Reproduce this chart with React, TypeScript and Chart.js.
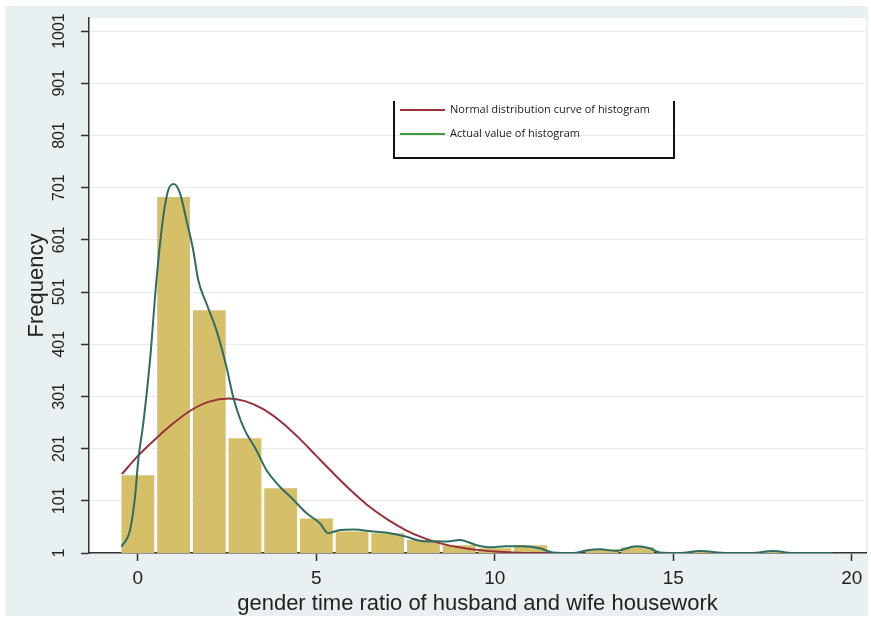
import { useEffect, useRef } from 'react';
import { Chart, registerables } from 'chart.js';

Chart.register(...registerables);

// Histogram bins (centre of each bin) and frequencies
const binCenters = [0, 1, 2, 3, 4, 5, 6, 7, 8, 9, 10, 11, 12, 13, 14, 15, 16, 17, 18, 19];
const binCounts = [150, 683, 466, 221, 125, 67, 42, 39, 26, 16, 10, 16, 0, 8, 12, 1, 3, 1, 3, 2];

// "Actual value" (kernel density) curve
const kdeX = [-0.46, -0.22, -0.08, 0.01, 0.15, 0.34, 0.52, 0.71, 0.85, 1.01, 1.18, 1.36, 1.55, 1.69, 1.92, 2.2, 2.48, 2.67, 2.95, 3.32, 3.6, 3.98, 4.3, 4.73, 5.1, 5.33, 5.6, 6.05, 6.6, 7.06, 7.53, 7.8, 8.18, 8.65, 9.02, 9.49, 9.86, 10.32, 10.79, 11.26, 11.63, 12.2, 12.56, 12.94, 13.4, 13.97, 14.34, 14.62, 15.2, 15.74, 16.5, 17.2, 17.8, 18.35, 19.47];
const kdeY = [13, 45, 109, 179, 249, 371, 524, 645, 696, 708, 690, 639, 581, 524, 479, 428, 358, 300, 243, 198, 160, 128, 107, 77, 58, 39, 44, 46, 42, 39, 32, 26, 23, 23, 26, 16, 12, 14, 14, 10, 2, 1, 6, 8, 5, 14, 10, 2, 1, 5, 1, 1, 5, 1, 1];

// Normal distribution curve
const normalX = [-0.45, 0, 0.5, 1, 1.5, 2, 2.55, 3, 3.5, 4, 4.5, 5, 5.5, 6, 6.5, 7, 7.5, 8, 8.5, 9, 9.5, 10, 10.5, 11, 12];
const normalY = [152, 187, 220, 250, 275, 291, 297, 292, 277, 253, 222, 187, 152, 119, 89, 65, 45, 30, 19, 12, 7, 4, 2, 1, 1];

const yTicks = [1, 101, 201, 301, 401, 501, 601, 701, 801, 901, 1001];
const xTicks = [0, 5, 10, 15, 20];
const legendLabels = ['Normal distribution curve of histogram', 'Actual value of histogram'];

const xTitle = 'gender time ratio of husband and wife housework';
const yTitle = 'Frequency';

const RED = '#9a3038';
const GREEN_LINE = '#2f6d62';
const GREEN_LEGEND = '#3a9c3a';
const BAR = '#d6bf69';
const OUTER = '#e8f0f1';
const AXIS = '#333333';
const GRID = '#e6ebed';
const FONT = '"Liberation Sans", Arial, Helvetica, sans-serif';

export default function App() {
  const ref = useRef<HTMLCanvasElement | null>(null);

  useEffect(() => {
    document.body.style.margin = '0';
    const canvas = ref.current;
    if (!canvas) return;

    const bgPlugin = {
      id: 'bg',
      beforeDraw(chart: any) {
        const { ctx, chartArea } = chart;
        ctx.save();
        ctx.fillStyle = '#ffffff';
        ctx.fillRect(0, 0, chart.width, chart.height);
        ctx.fillStyle = OUTER;
        ctx.fillRect(5, 6, chart.width - 8, chart.height - 11);
        ctx.fillStyle = '#ffffff';
        ctx.fillRect(chartArea.left, chartArea.top, chartArea.right - chartArea.left, chartArea.bottom - chartArea.top);
        ctx.restore();
      },
    };

    const overlayPlugin = {
      id: 'overlay',
      afterDraw(chart: any) {
        const { ctx } = chart;
        const ys = chart.scales.y;
        ctx.save();
        // rotated y tick labels
        ctx.font = `16px ${FONT}`;
        ctx.fillStyle = '#222';
        ctx.textAlign = 'center';
        ctx.textBaseline = 'middle';
        yTicks.forEach((v) => {
          const py = ys.getPixelForValue(v);
          ctx.save();
          ctx.translate(60, py);
          ctx.rotate(-Math.PI / 2);
          ctx.fillText(String(v), 0, 0);
          ctx.restore();
        });

        // legend box (open at top)
        const L = 394, R = 674, T = 101, B = 158;
        ctx.strokeStyle = '#111';
        ctx.lineWidth = 2;
        ctx.beginPath();
        ctx.moveTo(L, T);
        ctx.lineTo(L, B);
        ctx.lineTo(R, B);
        ctx.lineTo(R, T);
        ctx.stroke();

        const colors = [RED, GREEN_LEGEND];
        const rows = [110, 134];
        ctx.font = `11px "Open Sans", "Noto Sans", sans-serif`;
        ctx.textAlign = 'left';
        ctx.textBaseline = 'middle';
        legendLabels.forEach((lab, i) => {
          ctx.strokeStyle = colors[i];
          ctx.lineWidth = 2;
          ctx.beginPath();
          ctx.moveTo(400, rows[i]);
          ctx.lineTo(445, rows[i]);
          ctx.stroke();
          ctx.fillStyle = '#1a1a1a';
          ctx.fillText(lab, 450, rows[i]);
        });
        ctx.restore();
      },
    };

    const chart = new Chart(canvas, {
      type: 'bar',
      data: {
        datasets: [
          {
            type: 'line',
            label: legendLabels[1],
            data: kdeX.map((x, i) => ({ x, y: kdeY[i] })),
            borderColor: GREEN_LINE,
            borderWidth: 2,
            pointRadius: 0,
            cubicInterpolationMode: 'monotone',
            fill: false,
            order: 1,
          } as any,
          {
            type: 'line',
            label: legendLabels[0],
            data: normalX.map((x, i) => ({ x, y: normalY[i] })),
            borderColor: RED,
            borderWidth: 2,
            pointRadius: 0,
            cubicInterpolationMode: 'monotone',
            fill: false,
            order: 2,
          } as any,
          {
            type: 'bar',
            label: 'Histogram',
            data: binCenters.map((x, i) => ({ x, y: binCounts[i] })),
            backgroundColor: BAR,
            borderWidth: 0,
            barPercentage: 0.92,
            categoryPercentage: 1,
            order: 3,
          } as any,
        ],
      },
      options: {
        animation: false,
        responsive: false,
        layout: { padding: { top: 18, right: 5, left: 0, bottom: 0 } },
        plugins: { legend: { display: false }, tooltip: { enabled: false } },
        scales: {
          x: {
            type: 'linear',
            min: -1.37,
            max: 20.4,
            offset: false,
            afterBuildTicks: (s: any) => {
              s.ticks = xTicks.map((v) => ({ value: v }));
            },
            afterFit: (s: any) => {
              s.height = 68;
            },
            grid: { offset: false, drawOnChartArea: false, drawTicks: true, tickLength: 8, tickColor: AXIS, tickWidth: 1.5 },
            border: { display: true, color: AXIS, width: 1.5 },
            ticks: { font: { family: FONT, size: 19 }, color: '#222', padding: 6, maxRotation: 0, autoSkip: false },
            title: {
              display: true,
              text: xTitle,
              font: { family: FONT, size: 22 },
              color: '#222',
              padding: { top: 0, bottom: 4 },
            },
          },
          y: {
            type: 'linear',
            min: 1,
            max: 1026,
            afterBuildTicks: (s: any) => {
              s.ticks = yTicks.map((v) => ({ value: v }));
            },
            afterFit: (s: any) => {
              s.width = 89;
            },
            grid: { color: GRID, lineWidth: 1, drawTicks: true, tickLength: 8, tickColor: AXIS, tickWidth: 1.5 },
            border: { display: true, color: AXIS, width: 1.5 },
            ticks: { display: false },
            title: {
              display: true,
              text: yTitle,
              font: { family: FONT, size: 22 },
              color: '#222',
              padding: { top: 24, bottom: 0 },
            },
          },
        },
      },
      plugins: [bgPlugin, overlayPlugin],
    });

    return () => chart.destroy();
  }, []);

  return (
    <div style={{ width: 871, height: 621 }}>
      <canvas ref={ref} width={871} height={621} />
    </div>
  );
}
